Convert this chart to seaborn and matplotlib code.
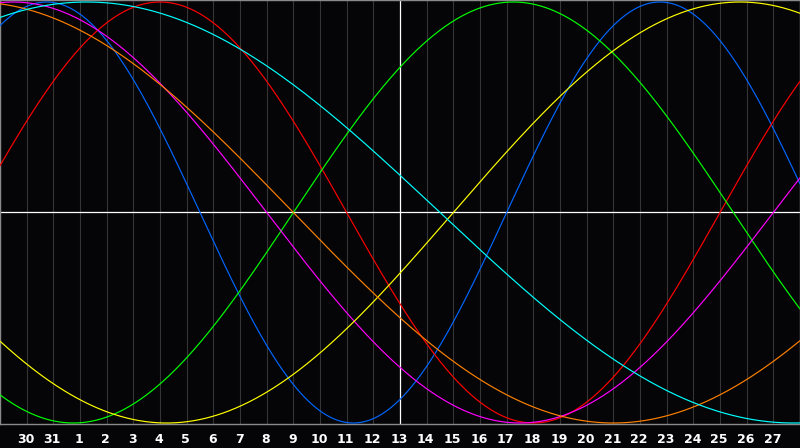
import numpy as np
import pandas as pd
import matplotlib
matplotlib.use("Agg")
import matplotlib.pyplot as plt
import seaborn as sns

# Day labels along the bottom (grid positions 1..29)
day_labels = ["30", "31", "1", "2", "3", "4", "5", "6", "7", "8", "9", "10", "11",
              "12", "13", "14", "15", "16", "17", "18", "19", "20", "21", "22",
              "23", "24", "25", "26", "27"]
today_index = 15  # day 13 (white vertical line)

# Biorhythm cycles: period (days) and day within the cycle at the left edge
cycle_names = ["Physical", "Emotional", "Intellectual", "Intuitive",
               "Aesthetic", "Awareness", "Spiritual"]
cycle_periods = [23, 28, 33, 38, 43, 48, 53]
cycle_day_at_start = [4, 1, 22, 9, 26, 13, 10]
cycle_colors = ["#0066ff", "#ff0000", "#00ff00", "#ff00ff",
                "#ffff00", "#ff8000", "#00ffff"]

n_cols = 30
t = np.linspace(0, n_cols, 1201)
frames = []
for name, p, d0 in zip(cycle_names, cycle_periods, cycle_day_at_start):
    frames.append(pd.DataFrame({"t": t, "v": np.sin(2 * np.pi * (d0 + t) / p), "cycle": name}))
df = pd.concat(frames, ignore_index=True)

sns.set_style("dark", {"axes.facecolor": "#050507", "figure.facecolor": "#050507"})
fig = plt.figure(figsize=(8, 4.48), dpi=100)
ax = fig.add_axes([0, 24 / 448, 1, 424 / 448])

for i in range(1, n_cols):
    if i == today_index:
        continue
    ax.axvline(i, color="#353535", lw=0.8, zorder=1)

sns.lineplot(data=df, x="t", y="v", hue="cycle", palette=dict(zip(cycle_names, cycle_colors)),
             hue_order=cycle_names, legend=False, lw=0.85, ax=ax, zorder=3, sort=False,
             estimator=None)

ax.axhline(0, color="white", lw=0.9, zorder=2)
ax.axvline(today_index, color="white", lw=0.9, zorder=2)

ax.set_xlim(0, n_cols)
ax.set_ylim(-1 - 1 / 210.5, 1 + 2 / 210.5)
ax.set_xticks([])
ax.set_yticks([])
ax.set_xlabel("")
ax.set_ylabel("")
for s in ax.spines.values():
    s.set_visible(True)
    s.set_color("#8a8a8a")
    s.set_linewidth(1.0)

for i, lab in enumerate(day_labels, start=1):
    fig.text((i * 800 / n_cols - 1) / 800, 1 - 439 / 448, lab, color="white",
             fontsize=9, fontweight="bold", ha="center", va="center",
             family="DejaVu Sans")

fig.savefig("out.png", dpi=100, facecolor="#050507")
